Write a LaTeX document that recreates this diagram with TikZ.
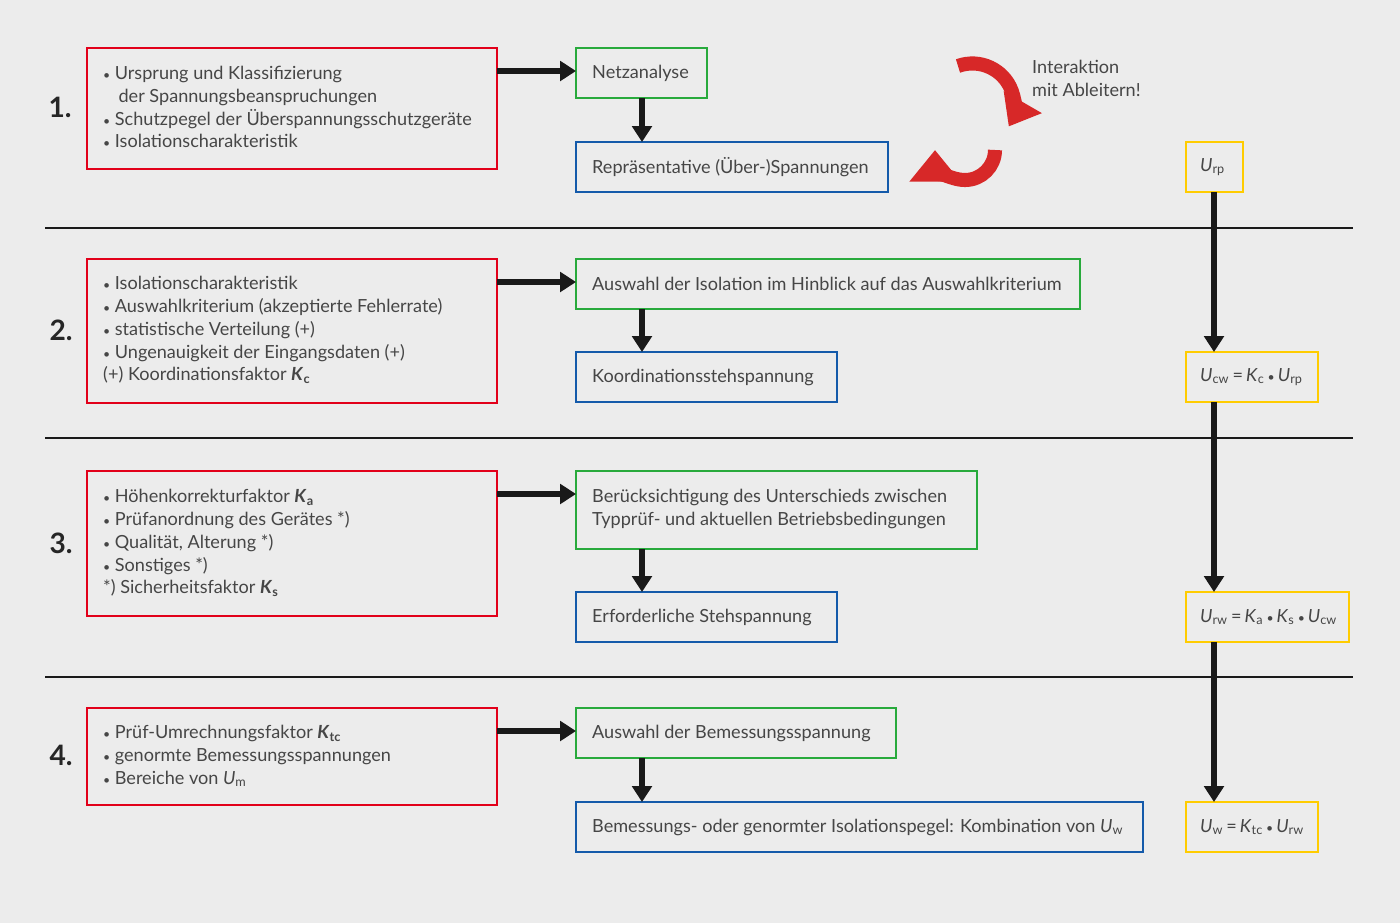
\documentclass[tikz,border=0pt]{standalone}
\usepackage{fontspec}
\setmainfont{Lato}
\usetikzlibrary{arrows.meta,positioning}
\definecolor{bg}{RGB}{236,236,236}
\definecolor{txt}{RGB}{70,70,70}
\definecolor{cred}{RGB}{226,0,26}
\definecolor{cgreen}{RGB}{40,170,60}
\definecolor{cblue}{RGB}{20,90,170}
\definecolor{cyel}{RGB}{255,204,0}
\definecolor{arrred}{RGB}{215,40,40}
\newcommand{\Uv}[1]{\textit{U}\textsubscript{#1}}
\newcommand{\Kv}[1]{\textit{K}\textsubscript{#1}}
\newcommand{\Kb}[1]{\textbf{\textit{K}}\textsubscript{\textbf{#1}}}
\newcommand{\bul}{{\scriptsize•}\hspace{0.25em}}
\newcommand{\mdot}{\,{\scriptsize•}\,}
\tikzset{
  box/.style = {draw, line width=1.4pt, anchor=north west, inner sep=0pt, outer sep=0pt},
  redbox/.style = {box, cred},
  greenbox/.style = {box, cgreen},
  bluebox/.style = {box, cblue},
  yelbox/.style = {box, cyel},
  txtl/.style = {anchor=west, text=txt, align=left, font=\fontsize{10.3}{13}\selectfont},
  flow/.style = {line width=3pt, black!90, -{Triangle[length=9pt,width=11pt]}},
  sep/.style = {line width=0.9pt, black!90},
  num/.style = {font=\fontsize{16}{16}\selectfont\bfseries, text=black!85}
}
\begin{document}
\begin{tikzpicture}[x=0.02cm, y=-0.02cm]
  \fill[bg] (0,0) rectangle (1400,923);
  \useasboundingbox (0,0) rectangle (1400,923);

  % separators
  \foreach \y in {228, 438, 677}
    \draw[sep] (45,\y) -- (1353,\y);

  % step numbers
  \node[num] at (60,107) {1.};
  \node[num] at (61,330) {2.};
  \node[num] at (61,543) {3.};
  \node[num] at (61,755) {4.};

  % row 1
  \node[redbox, minimum width=410*0.02cm, minimum height=121*0.02cm] (r1) at (87,48) {};
  \node[txtl] at (97,107) {\bul Ursprung und Klassifizierung\\\hspace*{0.85em}der Spannungsbeanspruchungen\\\bul Schutzpegel der Überspannungsschutzgeräte\\\bul Isolationscharakteristik};
  \node[greenbox, minimum width=131*0.02cm, minimum height=50*0.02cm] (g1) at (576,48) {};
  \node[txtl] at (586,73) {Netzanalyse};
  \node[bluebox, minimum width=312*0.02cm, minimum height=50*0.02cm] (b1) at (576,142) {};
  \node[txtl] at (586,167) {Repräsentative (Über-)Spannungen};
  \node[yelbox, minimum width=57*0.02cm, minimum height=50*0.02cm] (y1) at (1186,142) {};
  \node[txtl] at (1194,167) {\Uv{rp}};

  % row 2
  \node[redbox, minimum width=410*0.02cm, minimum height=144*0.02cm] (r2) at (87,259) {};
  \node[txtl] at (97,330) {\bul Isolationscharakteristik\\\bul Auswahlkriterium (akzeptierte Fehlerrate)\\\bul statistische Verteilung (+)\\\bul Ungenauigkeit der Eingangsdaten (+)\\(+) Koordinationsfaktor \Kb{c}};
  \node[greenbox, minimum width=504*0.02cm, minimum height=50*0.02cm] (g2) at (576,259) {};
  \node[txtl] at (586,284) {Auswahl der Isolation im Hinblick auf das Auswahlkriterium};
  \node[bluebox, minimum width=261*0.02cm, minimum height=50*0.02cm] (b2) at (576,352) {};
  \node[txtl] at (586,377) {Koordinationsstehspannung};
  \node[yelbox, minimum width=132*0.02cm, minimum height=50*0.02cm] (y2) at (1186,352) {};
  \node[txtl] at (1194,377) {\Uv{cw}\,=\,\Kv{c}\mdot\Uv{rp}};

  % row 3
  \node[redbox, minimum width=410*0.02cm, minimum height=145*0.02cm] (r3) at (87,471) {};
  \node[txtl] at (97,543) {\bul Höhenkorrekturfaktor \Kb{a}\\\bul Prüfanordnung des Gerätes *)\\\bul Qualität, Alterung *)\\\bul Sonstiges *)\\*) Sicherheitsfaktor \Kb{s}};
  \node[greenbox, minimum width=401*0.02cm, minimum height=78*0.02cm] (g3) at (576,471) {};
  \node[txtl] at (586,509) {Berücksichtigung des Unterschieds zwischen\\Typprüf- und aktuellen Betriebsbedingungen};
  \node[bluebox, minimum width=261*0.02cm, minimum height=50*0.02cm] (b3) at (576,592) {};
  \node[txtl] at (586,617) {Erforderliche Stehspannung};
  \node[yelbox, minimum width=163*0.02cm, minimum height=50*0.02cm] (y3) at (1186,592) {};
  \node[txtl] at (1194,617) {\Uv{rw}\,=\,\Kv{a}\mdot\Kv{s}\mdot\Uv{cw}};

  % row 4
  \node[redbox, minimum width=410*0.02cm, minimum height=97*0.02cm] (r4) at (87,708) {};
  \node[txtl] at (97,756) {\bul Prüf-Umrechnungsfaktor \Kb{tc}\\\bul genormte Bemessungsspannungen\\\bul Bereiche von \Uv{m}};
  \node[greenbox, minimum width=320*0.02cm, minimum height=50*0.02cm] (g4) at (576,708) {};
  \node[txtl] at (586,733) {Auswahl der Bemessungsspannung};
  \node[bluebox, minimum width=567*0.02cm, minimum height=50*0.02cm] (b4) at (576,802) {};
  \node[txtl] at (586,827) {Bemessungs- oder genormter Isolationspegel: Kombination von \Uv{w}};
  \node[yelbox, minimum width=132*0.02cm, minimum height=50*0.02cm] (y4) at (1186,802) {};
  \node[txtl] at (1194,827) {\Uv{w}\,=\,\Kv{tc}\mdot\Uv{rw}};

  % connectors
  \foreach \i in {1,...,4} {
    \coordinate (s\i) at ([yshift=-23*0.02cm]r\i.north east);
    \draw[flow] (s\i) -- (s\i -| g\i.west);
    \draw[flow] (g\i.south west -| 642,0) -- (b\i.north west -| 642,0);
  }
  \coordinate (v1) at ([xshift=28*0.02cm]y1.south west);
  \draw[flow] (v1) -- (v1 |- y2.north);
  \draw[flow] (v1 |- y2.south) -- (v1 |- y3.north);
  \draw[flow] (v1 |- y3.south) -- (v1 |- y4.north);

  % interaction icon
  \draw[arrred, line width=8pt, -{Triangle[length=16pt,width=24pt]}]
    (958,66) arc[start angle=-110, end angle=30, radius=42];
  \draw[arrred, line width=8pt, -{Triangle[length=18pt,width=28pt]}]
    (995,150) arc[start angle=0, end angle=180, radius=30];
  \node[txtl] at (1026,78) {Interaktion\\mit Ableitern!};
\end{tikzpicture}
\end{document}
